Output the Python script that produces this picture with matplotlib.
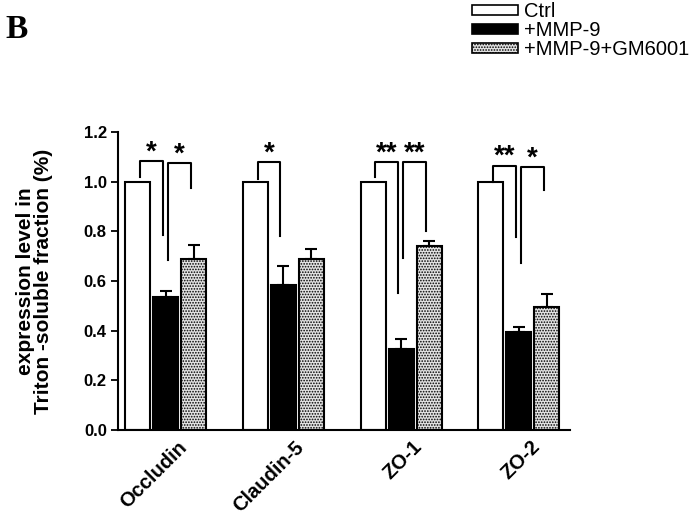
import numpy as np
import matplotlib
matplotlib.use('Agg')
import matplotlib.pyplot as plt
from matplotlib.patches import Patch
import matplotlib.transforms as mtransforms

plt.rcParams['font.family'] = ['Liberation Sans', 'DejaVu Sans']
plt.rcParams['hatch.color'] = 'black'
plt.rcParams['hatch.linewidth'] = 0.8

# Data
proteins = ['Occludin', 'Claudin-5', 'ZO-1', 'ZO-2']
conditions = ['Ctrl', '+MMP-9', '+MMP-9+GM6001']
ctrl = [1.0, 1.0, 1.0, 1.0]
mmp9 = [0.535, 0.585, 0.326, 0.396]
mmp9_err = [0.025, 0.075, 0.040, 0.020]
gm6001 = [0.690, 0.687, 0.742, 0.494]
gm6001_err = [0.055, 0.043, 0.020, 0.054]
yticks = [0.0, 0.2, 0.4, 0.6, 0.8, 1.0, 1.2]

# significance brackets: group, bar i, bar j, top, left leg bottom, right leg bottom, label
br_group = [0, 0, 1, 2, 2, 3, 3]
br_i = [0, 1, 0, 0, 1, 0, 1]
br_j = [1, 2, 1, 1, 2, 1, 2]
br_top = [1.083, 1.075, 1.08, 1.08, 1.078, 1.065, 1.06]
br_left = [1.02, 0.685, 1.01, 1.02, 0.694, 1.0, 0.674]
br_right = [0.785, 0.975, 0.78, 0.553, 0.80, 0.776, 0.967]
br_label = ['*', '*', '*', '**', '**', '**', '*']

fig = plt.figure(figsize=(6.98, 5.18), dpi=100)
ax = fig.add_axes([0.169, 0.170, 0.648, 0.575])

x = np.arange(len(proteins))
step = 0.238
width = 0.212
series = [ctrl, mmp9, gm6001]
errs = [None, mmp9_err, gm6001_err]
faces = ['white', 'black', '#e2e2e2']
hatches = [None, None, '......']

for k in range(3):
    ax.bar(x + (k - 1) * step, series[k], width, color=faces[k], edgecolor='black',
           linewidth=1.5, hatch=hatches[k], label=conditions[k], zorder=2)
    if errs[k] is not None:
        ax.errorbar(x + (k - 1) * step, series[k], yerr=[np.zeros(4), errs[k]],
                    fmt='none', ecolor='black', elinewidth=1.5, capsize=4.5,
                    capthick=1.5, zorder=1)

for g, i, j, top, lb, rb, lab in zip(br_group, br_i, br_j, br_top, br_left, br_right, br_label):
    xl = g + (i - 1) * step + 0.02
    xr = g + (j - 1) * step - 0.025
    ax.plot([xl, xl, xr, xr], [lb, top, top, rb], color='black', lw=1.5, zorder=3)
    ax.text((xl + xr) / 2, top + 0.035, lab, ha='center', va='center',
            fontsize=20, fontweight='bold')

ax.set_xlim(-0.404, 3.437)
ax.set_ylim(0, 1.2)
ax.set_yticks(yticks)
ax.set_yticklabels(['%.1f' % v for v in yticks], fontsize=12, fontweight='bold')
ax.tick_params(axis='y', direction='out', length=5, width=1.3, pad=3)
ax.tick_params(axis='x', length=0, pad=0)
ax.set_xticks(x)
ax.set_xticklabels(proteins, rotation=45, ha='right', va='center', rotation_mode='anchor',
                   fontsize=14.5, fontweight='bold')
offset = mtransforms.ScaledTranslation(0.18, -0.14, fig.dpi_scale_trans)
for lbl in ax.get_xticklabels():
    lbl.set_transform(lbl.get_transform() + offset)

for side in ['top', 'right']:
    ax.spines[side].set_visible(False)
ax.spines['left'].set_linewidth(1.5)
ax.spines['bottom'].set_linewidth(1.5)

ax.set_ylabel('expression level in\nTriton -soluble fraction (%)', fontsize=15,
              fontweight='bold', labelpad=22, linespacing=0.95)

handles = [Patch(facecolor=faces[k], edgecolor='black', linewidth=1.2, hatch=hatches[k])
           for k in range(3)]
fig.legend(handles, conditions, loc='upper left', bbox_to_anchor=(472 / 698, 1 - 2 / 518),
           frameon=False, fontsize=14.5, handlelength=2.3, handleheight=0.4,
           handletextpad=0.3, labelspacing=0.0, borderpad=0, borderaxespad=0)

fig.text(5 / 698, 1 - 38 / 518, 'B', family='Liberation Serif', fontweight='bold',
         fontsize=24)

fig.savefig('out.png', dpi=100)
